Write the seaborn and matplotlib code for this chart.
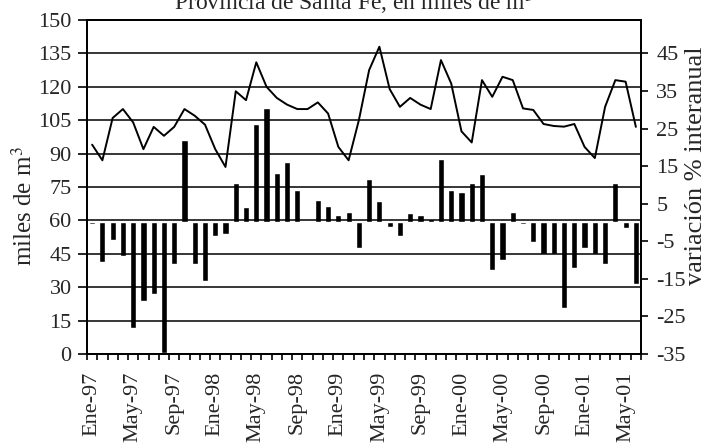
import numpy as np
import pandas as pd
import matplotlib
matplotlib.use("Agg")
import matplotlib.pyplot as plt
import seaborn as sns

meses = ["Ene", "Feb", "Mar", "Abr", "May", "Jun", "Jul", "Ago", "Sep", "Oct", "Nov", "Dic"]
anios = ["97", "98", "99", "00", "01"]
periodos = [f"{m}-{a}" for a in anios for m in meses][:54]

miles_m3 = [94, 87, 106, 110, 104, 92, 102, 98, 102, 110, 107, 103,
            92, 84, 118, 114, 131, 120, 115, 112, 110, 110, 113, 108,
            93, 87, 105, 127.5, 138, 119, 111, 115, 112, 110, 132, 121.5,
            100, 95, 123, 115.5, 124.5, 123, 110.3, 109.6, 103.3, 102.4, 102.1, 103.3,
            93, 88, 111, 123, 122.3, 102]

variacion = [-0.5, -10.5, -4.7, -8.8, -28, -21, -19, -34.7, -11, 22, -11, -15.6,
             -3.5, -3.1, 10.4, 4, 26.3, 30.5, 13.1, 16.2, 8.7, 0, 6, 4.5,
             1.9, 2.9, -6.8, 11.5, 5.6, -1.1, -3.5, 2.4, 1.9, 0.8, 16.8, 8.7,
             8.2, 10.4, 12.9, -12.7, -10.1, 2.9, -0.4, -5.2, -8.4, -8.4, -22.7, -12.1,
             -6.8, -8.4, -11, 10.4, -1.5, -16.4]

left_ticks = list(range(0, 151, 15))
right_ticks = list(range(-35, 46, 10))

df = pd.DataFrame({"periodo": periodos, "idx": np.arange(len(periodos)),
                   "miles": miles_m3, "var": variacion})

sns.set_theme(style="white")
plt.rcParams["font.family"] = ["Liberation Serif", "DejaVu Serif"]
plt.rcParams["mathtext.fontset"] = "stix"

fig = plt.figure(figsize=(7.08, 4.43), dpi=100)
ax = fig.add_axes([87 / 708, 1 - 354 / 443, (641 - 87) / 708, (354 - 20) / 443])
ax2 = ax.twinx()

sns.barplot(data=df, x="periodo", y="var", ax=ax2, color="black",
            saturation=1, width=0.6, order=periodos)
sns.lineplot(data=df, x="idx", y="miles", ax=ax, color="black", linewidth=1.4)

ax.set_zorder(ax2.get_zorder() + 1)
ax.patch.set_visible(False)
ax2.patch.set_facecolor("white")

ax.set_ylim(0, 150)
ax2.set_ylim(-35, -35 + 150 * 80 / 135)
ax.set_xlim(-0.5, len(periodos) - 0.5)

ax.set_yticks(left_ticks)
ax.set_yticklabels([str(v) for v in left_ticks])
ax2.set_yticks(right_ticks)
ax2.set_yticklabels([str(v) for v in right_ticks])

ax.yaxis.grid(True, color="black", linewidth=1.1)
ax.xaxis.grid(False)
ax2.grid(False)

major = list(range(0, len(periodos), 4))
ax.set_xticks(major)
ax.set_xticklabels([periodos[i] for i in major], rotation=90)
ax.set_xticks(np.arange(-0.5, len(periodos)), minor=True)

ax.tick_params(axis="x", which="major", length=0, pad=12.5, labelsize=16)
ax.tick_params(axis="x", which="minor", length=4.5, width=1.2, color="black",
               direction="out", bottom=True)
ax.tick_params(axis="y", length=6.5, width=1.2, color="black", pad=4.5,
               labelsize=16, left=True)
ax2.tick_params(axis="y", length=5, width=1.2, color="black", pad=6,
                labelsize=16, right=True)

for a in (ax, ax2):
    for s in a.spines.values():
        s.set_visible(True)
        s.set_color("black")
        s.set_linewidth(1.3)
    a.set_xlabel("")
    a.set_ylabel("")

fig.text(0.5, 1 - 10 / 443, "Provincia de Santa Fe, en miles de m$^3$",
         ha="center", va="baseline", fontsize=17)
fig.text(24 / 708, 1 - 206 / 443, "miles de m$^3$", rotation=90,
         ha="center", va="center", fontsize=18)
fig.text(696 / 708, 1 - 166 / 443, "variación % interanual", rotation=90,
         ha="center", va="center", fontsize=19)

fig.savefig("out.png", dpi=100)
